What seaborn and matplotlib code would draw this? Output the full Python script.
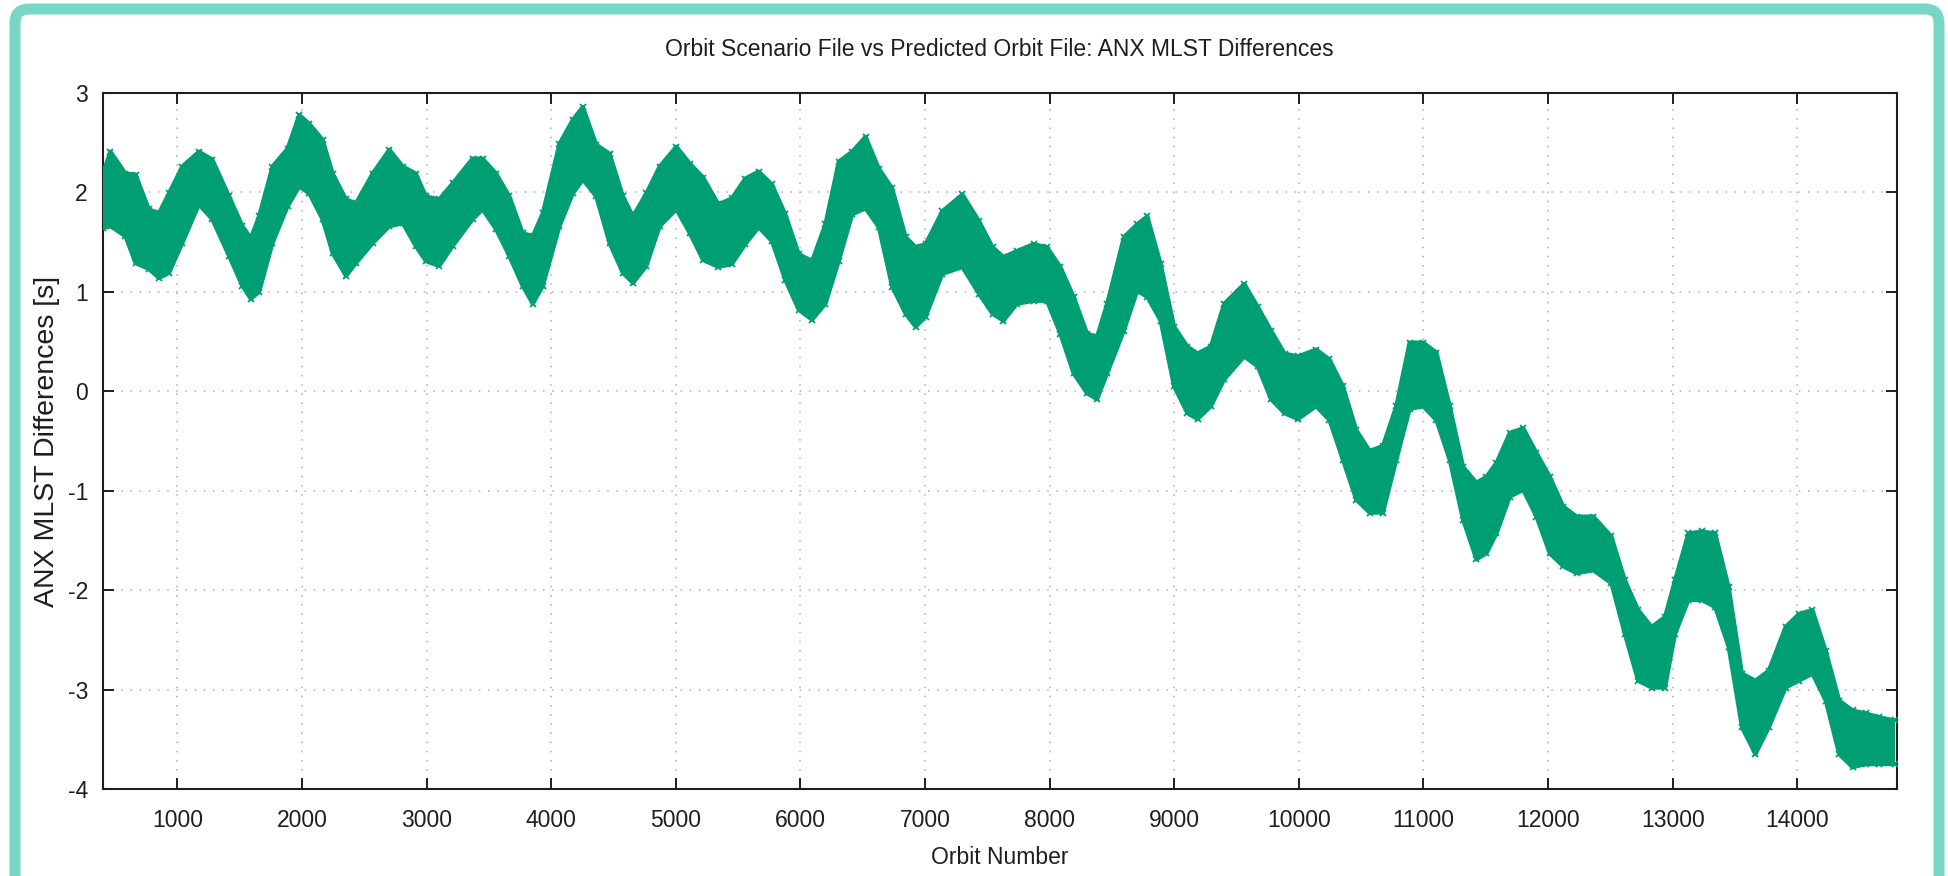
import numpy as np
import pandas as pd
import matplotlib
matplotlib.use("Agg")
import matplotlib.pyplot as plt
import seaborn as sns
from matplotlib.patches import FancyBboxPatch
from matplotlib.transforms import IdentityTransform

# ---- data (band envelopes of the ANX MLST differences) ----
orbit = [400, 464, 584, 665, 772, 853, 933, 1040, 1174, 1281, 1416, 1523, 1590, 1657,
         1764, 1885, 1979, 2059, 2166, 2247, 2354, 2434, 2568, 2702, 2810, 2914, 2995,
         3102, 3209, 3370, 3450, 3558, 3665, 3772, 3853, 3933, 4067, 4174, 4255, 4362,
         4469, 4576, 4657, 4764, 4871, 5005, 5113, 5220, 5343, 5450, 5558, 5665, 5772,
         5879, 5987, 6094, 6201, 6308, 6416, 6523, 6630, 6737, 6845, 6925, 7005, 7139,
         7300, 7434, 7542, 7630, 7737, 7871, 7979, 8086, 8193, 8301, 8381, 8462, 8596,
         8703, 8784, 8891, 8999, 9106, 9187, 9294, 9401, 9562, 9670, 9777, 9885, 9992,
         10139, 10246, 10354, 10461, 10568, 10675, 10782, 10889, 10997, 11104, 11211,
         11318, 11425, 11505, 11586, 11693, 11800, 11907, 12014, 12122, 12229, 12363,
         12508, 12616, 12723, 12831, 12938, 13019, 13126, 13234, 13341, 13449, 13556,
         13664, 13771, 13906, 14013, 14121, 14228, 14336, 14443, 14551, 14659, 14780]

upper = [2.18, 2.41, 2.19, 2.18, 1.83, 1.79, 1.99, 2.26, 2.41, 2.33, 1.96, 1.66, 1.54, 1.76,
         2.26, 2.44, 2.78, 2.69, 2.53, 2.19, 1.93, 1.89, 2.19, 2.43, 2.26, 2.19, 1.96,
         1.93, 2.09, 2.34, 2.34, 2.19, 1.96, 1.59, 1.56, 1.79, 2.49, 2.73, 2.86, 2.48,
         2.39, 1.96, 1.76, 1.99, 2.26, 2.46, 2.29, 2.15, 1.88, 1.94, 2.14, 2.21, 2.08,
         1.78, 1.38, 1.31, 1.68, 2.31, 2.41, 2.56, 2.24, 2.04, 1.55, 1.45, 1.48, 1.81,
         1.98, 1.71, 1.45, 1.35, 1.41, 1.48, 1.45, 1.25, 0.95, 0.58, 0.55, 0.88, 1.55,
         1.68, 1.76, 1.28, 0.65, 0.45, 0.38, 0.45, 0.88, 1.08, 0.85, 0.61, 0.38, 0.35,
         0.42, 0.32, 0.05, -0.39, -0.60, -0.55, -0.15, 0.49, 0.49, 0.39, -0.15,
         -0.76, -0.92, -0.86, -0.72, -0.42, -0.37, -0.62, -0.86, -1.16, -1.26, -1.26,
         -1.46, -1.90, -2.20, -2.37, -2.27, -1.90, -1.43, -1.41, -1.43, -1.97, -2.84,
         -2.91, -2.81, -2.37, -2.24, -2.20, -2.61, -3.11, -3.21, -3.24, -3.28, -3.31]

lower = [1.64, 1.66, 1.56, 1.29, 1.23, 1.14, 1.19, 1.49, 1.88, 1.73, 1.36, 1.06, 0.93, 1.00,
         1.49, 1.86, 2.06, 1.99, 1.73, 1.39, 1.16, 1.29, 1.49, 1.66, 1.69, 1.46, 1.31,
         1.26, 1.46, 1.73, 1.83, 1.63, 1.36, 1.06, 0.88, 1.06, 1.66, 1.99, 2.13, 1.96,
         1.49, 1.19, 1.09, 1.26, 1.66, 1.83, 1.59, 1.32, 1.25, 1.28, 1.48, 1.65, 1.51,
         1.12, 0.82, 0.72, 0.88, 1.31, 1.78, 1.84, 1.65, 1.05, 0.78, 0.65, 0.75, 1.18,
         1.25, 0.98, 0.78, 0.71, 0.88, 0.91, 0.91, 0.58, 0.18, -0.02, -0.08, 0.18, 0.61,
         1.01, 0.95, 0.71, 0.05, -0.22, -0.28, -0.15, 0.12, 0.35, 0.25, -0.08, -0.22, -0.28,
         -0.15, -0.29, -0.69, -1.09, -1.22, -1.22, -0.69, -0.18, -0.15, -0.29, -0.69,
         -1.29, -1.69, -1.63, -1.43, -1.06, -0.99, -1.26, -1.63, -1.76, -1.83, -1.80,
         -1.93, -2.44, -2.91, -2.98, -2.98, -2.44, -2.10, -2.10, -2.17, -2.57, -3.38,
         -3.65, -3.38, -2.98, -2.91, -2.84, -3.11, -3.65, -3.78, -3.75, -3.75, -3.75]

x_ticks = [1000, 2000, 3000, 4000, 5000, 6000, 7000, 8000, 9000, 10000, 11000, 12000, 13000, 14000]
y_ticks = [-4, -3, -2, -1, 0, 1, 2, 3]

title = "Orbit Scenario File vs Predicted Orbit File: ANX MLST Differences"
xlabel = "Orbit Number"
ylabel = "ANX MLST Differences [s]"

# ---- styling ----
GREEN = "#009e73"
BORDER = "#77d7c4"
INK = "#1e1e1e"
FS = 16.5

sns.set_theme(style="white")
plt.rcParams["font.family"] = ["Liberation Sans", "DejaVu Sans"]
plt.rcParams["axes.unicode_minus"] = False

W, H, DPI = 1949, 876, 100
fig = plt.figure(figsize=(W / DPI, H / DPI), dpi=DPI)
fig.patch.set_facecolor("white")

ax_l, ax_r, ax_t, ax_b = 102.5, 1897.0, 93.0, 789.0
ax = fig.add_axes([ax_l / W, 1 - ax_b / H, (ax_r - ax_l) / W, (ax_b - ax_t) / H])
ax.set_facecolor("white")

df = pd.DataFrame({"orbit": orbit, "upper": upper, "lower": lower})
df_long = df.melt(id_vars="orbit", value_vars=["upper", "lower"],
                  var_name="edge", value_name="diff")

ax.fill_between(df["orbit"], df["lower"], df["upper"], color=GREEN, linewidth=0, zorder=3)
sns.lineplot(data=df_long, x="orbit", y="diff", units="edge", estimator=None,
             color=GREEN, linewidth=3.0, marker="x", markersize=5,
             markeredgewidth=1.3, markeredgecolor=GREEN, markerfacecolor=GREEN,
             ax=ax, zorder=3, legend=False)

ax.set_xlim(400, 14800)
ax.set_ylim(-4, 3)
ax.set_xticks(x_ticks)
ax.set_yticks(y_ticks)
ax.set_xticklabels([str(v) for v in x_ticks])
ax.set_yticklabels([str(v) for v in y_ticks])
ax.set_xlabel("")
ax.set_ylabel("")

for s in ax.spines.values():
    s.set_visible(True)
    s.set_color(INK)
    s.set_linewidth(1.5)

ax.tick_params(axis="both", which="major", direction="in", length=8, width=1.4,
               color=INK, labelsize=FS, labelcolor=INK,
               top=True, right=True, bottom=True, left=True)
ax.tick_params(axis="x", pad=14.5)
ax.tick_params(axis="y", pad=10.5)

ax.grid(True, which="major", color="#b0b0b0", linestyle=(0, (1, 5)), linewidth=1.1, zorder=0)
ax.set_axisbelow(True)

ax.set_xlabel(xlabel, fontsize=FS, color=INK)
ax.set_ylabel(ylabel, fontsize=20.5, color=INK)
ax.xaxis.set_label_coords(0.5, (ax_b - 857) / (ax_b - ax_t))
ax.yaxis.set_label_coords((47 - ax_l) / (ax_r - ax_l), 0.5)
ax.xaxis.label.set_va("center")
ax.yaxis.label.set_va("center")
ax.set_title(title, fontsize=FS, color=INK, y=1 + (ax_t - 57.5) / (ax_b - ax_t), va="center")

# rounded teal frame around the whole chart (cut at the bottom like the reference)
frame = FancyBboxPatch((15, -20), 1939 - 15, (H - 9) + 20,
                       boxstyle="round,pad=0,rounding_size=14",
                       linewidth=11 * 72 / DPI, edgecolor=BORDER, facecolor="none",
                       transform=IdentityTransform(), zorder=10)
fig.add_artist(frame)

fig.savefig("out.png", dpi=DPI)
